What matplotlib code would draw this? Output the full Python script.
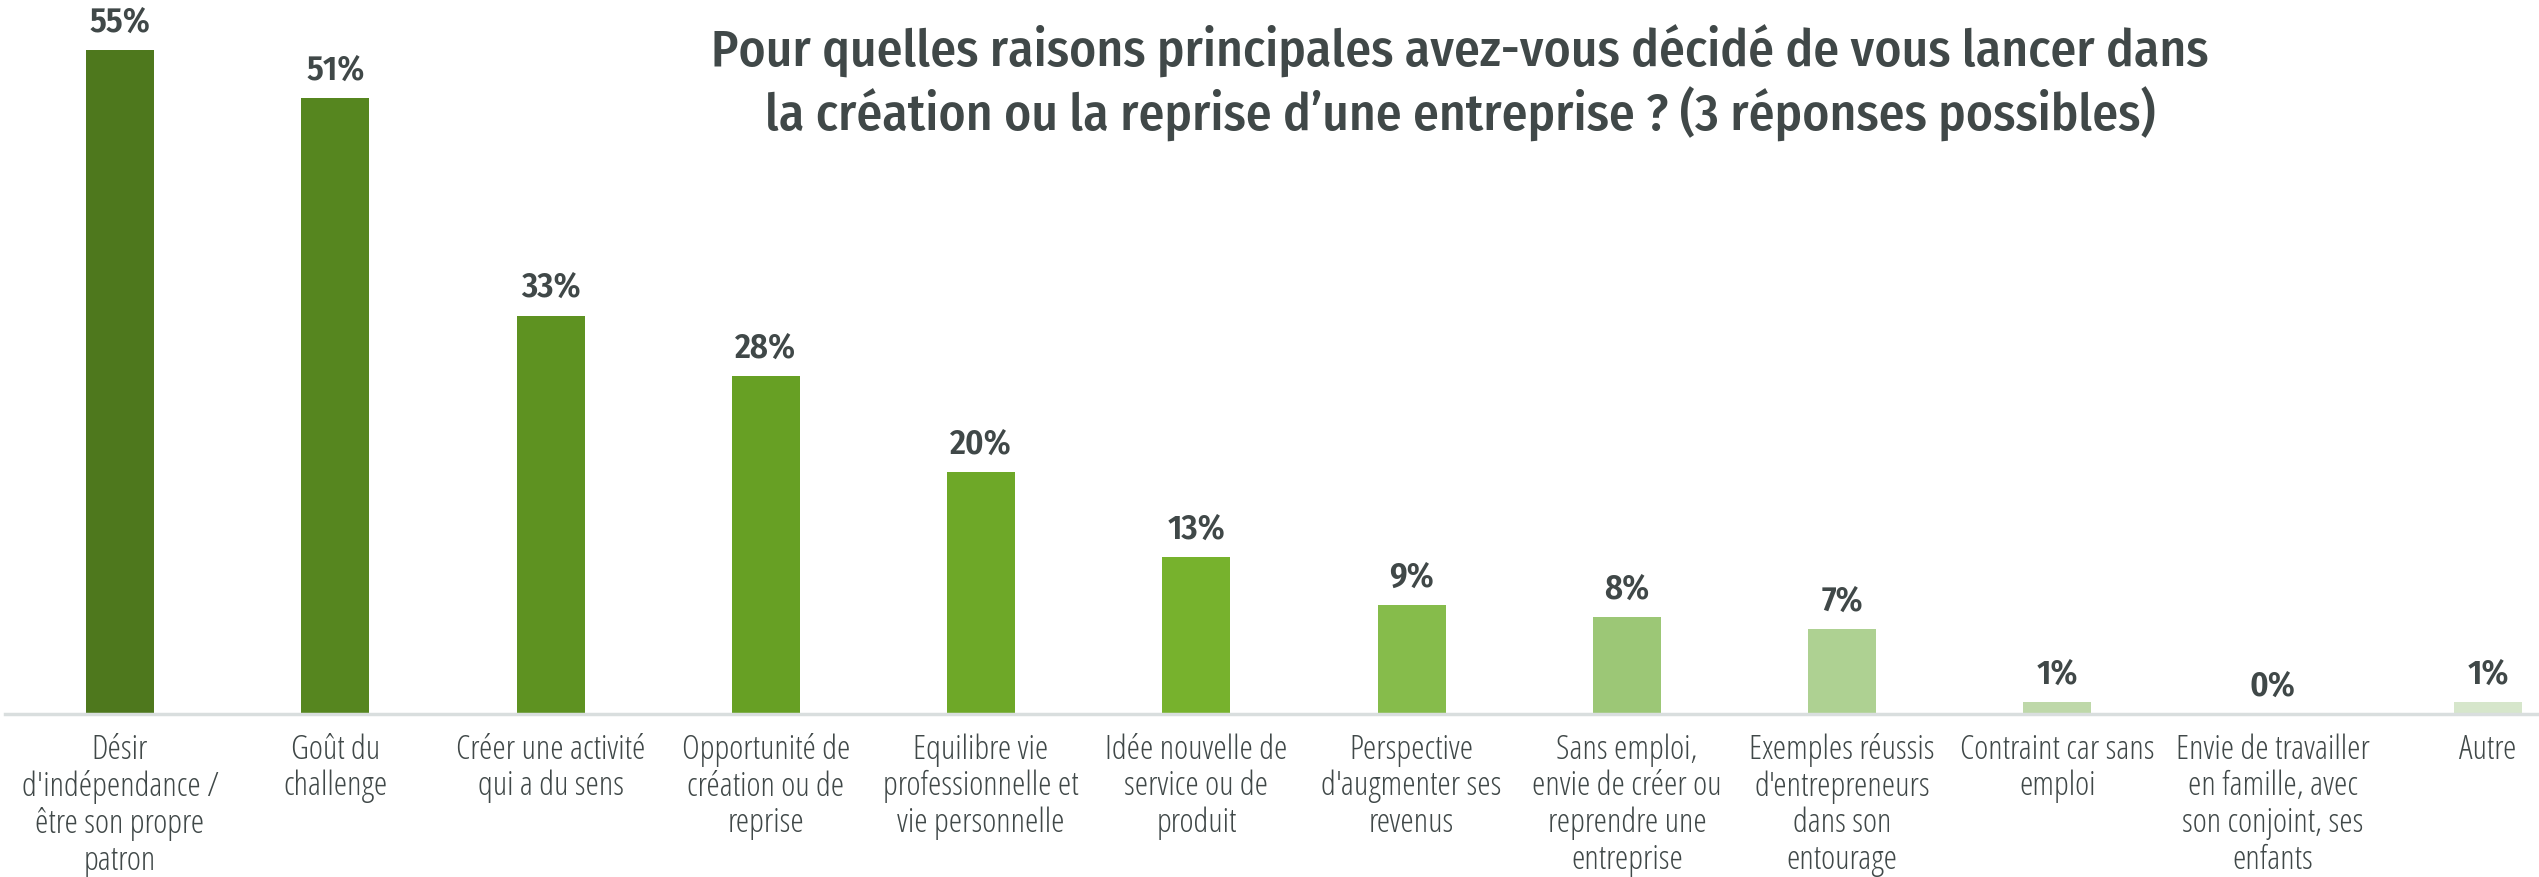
import matplotlib.pyplot as plt

# donnees
categories = [
    "Désir\nd'indépendance /\nêtre son propre\npatron",
    "Goût du\nchallenge",
    "Créer une activité\nqui a du sens",
    "Opportunité de\ncréation ou de\nreprise",
    "Equilibre vie\nprofessionnelle et\nvie personnelle",
    "Idée nouvelle de\nservice ou de\nproduit",
    "Perspective\nd'augmenter ses\nrevenus",
    "Sans emploi,\nenvie de créer ou\nreprendre une\nentreprise",
    "Exemples réussis\nd'entrepreneurs\ndans son\nentourage",
    "Contraint car sans\nemploi",
    "Envie de travailler\nen famille, avec\nson conjoint, ses\nenfants",
    "Autre",
]
valeurs = [55, 51, 33, 28, 20, 13, 9, 8, 7, 1, 0, 1]
couleurs = ["#4E781D", "#56861F", "#5E9221", "#67A024", "#6EA828", "#77B22D",
            "#86BC4B", "#9CC776", "#AED192", "#BED8A9", "#C9DFB8", "#D6E6CB"]

titre = ("Pour quelles raisons principales avez-vous décidé de vous lancer dans\n"
         "la création ou la reprise d\u2019une entreprise ? (3 réponses possibles)")

gris = "#404848"

fig = plt.figure(figsize=(25.39, 8.77), dpi=100)
ax = fig.add_axes([0.002, 0.186, 0.998, 0.814])

x = list(range(len(valeurs)))
ax.bar(x, valeurs, width=0.316, color=couleurs, zorder=2)

for xi, v in zip(x, valeurs):
    ax.annotate(f"{v}%", (xi, v), xytext=(0, 20), textcoords="offset points",
                ha="center", va="center", fontsize=25, fontweight=600,
                color=gris, family="Fira Sans Condensed")

ax.set_xlim(-0.534, 11.237)
ax.set_ylim(0, 59.15)
for s in ["top", "right", "left"]:
    ax.spines[s].set_visible(False)
ax.spines["bottom"].set_color("#D9DEDE")
ax.spines["bottom"].set_linewidth(2.5)
ax.set_yticks([])
ax.set_xticks(x)
ax.set_xticklabels(categories, fontsize=24.5, color=gris, family="Open Sans",
                   stretch="condensed", linespacing=1.12, va="top")
ax.tick_params(axis="x", length=0, pad=14)

fig.text(0.575, 0.905, titre, ha="center", va="center", fontsize=37,
         fontweight=500, color=gris, family="Fira Sans Condensed",
         linespacing=1.2)

fig.savefig("out.png", dpi=100)
